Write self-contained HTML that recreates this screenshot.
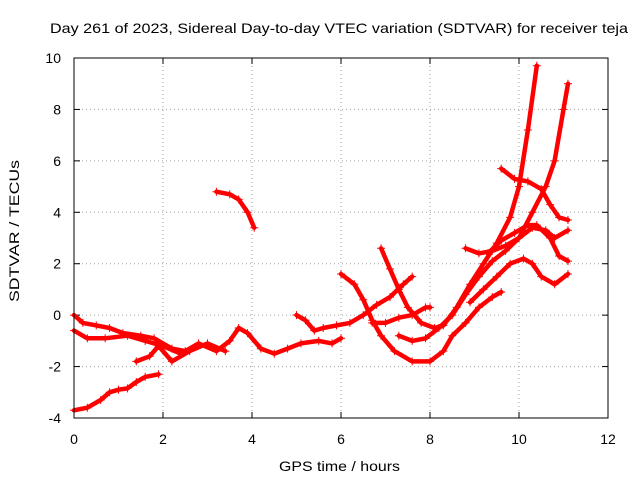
<!DOCTYPE html>
<html><head><meta charset="utf-8"><style>
body{margin:0;background:#fff;font-family:"Liberation Sans",sans-serif}
svg text{font-family:"Liberation Sans",sans-serif;font-size:14px;fill:#000}
</style></head><body>
<svg id="chart" width="640" height="480" xmlns="http://www.w3.org/2000/svg">
<rect width="640" height="480" fill="#fff"/>
<text x="50" y="33" textLength="578" lengthAdjust="spacingAndGlyphs">Day 261 of 2023, Sidereal Day-to-day VTEC variation (SDTVAR) for receiver teja</text>
<text x="279" y="471" textLength="121" lengthAdjust="spacingAndGlyphs">GPS time / hours</text>
<text transform="translate(19,302) rotate(-90)" textLength="142" lengthAdjust="spacingAndGlyphs">SDTVAR / TECUs</text>
<g id="grid"></g>
<g id="series"></g>
<rect x="74" y="58" width="534" height="360" fill="none" stroke="#000" stroke-width="1"/>
</svg>
<script>
const xTicks=[0,2,4,6,8,10,12];
const yTicks=[-4,-2,0,2,4,6,8,10];
const track1=[[0,-3.7],[0.3,-3.6],[0.6,-3.3],[0.8,-3.0],[1.0,-2.9],[1.2,-2.85],[1.4,-2.6],[1.6,-2.4],[1.9,-2.3]];
const track2=[[0,0],[0.2,-0.3],[0.5,-0.4],[0.8,-0.5],[1.1,-0.7],[1.5,-0.8],[1.8,-0.9],[2.2,-1.3],[2.5,-1.4]];
const track3=[[0,-0.6],[0.3,-0.9],[0.7,-0.9],[1.2,-0.8],[1.6,-1.0],[2.0,-1.2],[2.4,-1.5],[2.8,-1.1],[3.2,-1.4],[3.5,-1.0],[3.7,-0.5],[3.9,-0.7],[4.2,-1.3],[4.5,-1.5],[4.8,-1.3],[5.1,-1.1],[5.5,-1.0],[5.8,-1.1],[6.0,-0.9]];
const track4=[[1.4,-1.8],[1.7,-1.6],[1.9,-1.2],[2.2,-1.8],[2.6,-1.4],[3.0,-1.1],[3.4,-1.4]];
const track5=[[3.2,4.8],[3.5,4.7],[3.7,4.5],[3.9,4.0],[4.05,3.4]];
const track6=[[5.0,0.0],[5.2,-0.2],[5.4,-0.6],[5.6,-0.5],[5.9,-0.4],[6.2,-0.3],[6.5,0.0],[6.8,0.4],[7.1,0.7],[7.4,1.2],[7.6,1.5]];
const track7=[[6.0,1.6],[6.3,1.2],[6.5,0.6],[6.7,-0.2],[6.9,-0.8],[7.2,-1.4],[7.6,-1.8],[8.0,-1.8],[8.3,-1.4],[8.5,-0.8],[8.8,-0.3],[9.1,0.3],[9.4,0.7],[9.6,0.9]];
const track8=[[6.9,2.6],[7.1,1.8],[7.3,1.0],[7.5,0.3],[7.8,-0.3],[8.1,-0.5],[8.3,-0.4],[8.6,0.3],[8.9,1.2],[9.2,2.0],[9.5,2.8],[9.8,3.8],[10.0,5.0],[10.2,7.2],[10.4,9.7]];
const track9=[[6.7,-0.3],[7.0,-0.3],[7.3,-0.1],[7.6,0.0],[7.9,0.3],[8.0,0.3]];
const track10=[[7.3,-0.8],[7.6,-1.0],[7.9,-0.9],[8.2,-0.5],[8.5,0.0],[8.8,0.8],[9.1,1.5],[9.4,2.1],[9.7,2.5],[10.0,3.0],[10.3,4.0],[10.6,5.0],[10.8,6.0],[11.0,8.0],[11.1,9.0]];
const track11=[[8.8,2.6],[9.1,2.4],[9.4,2.5],[9.7,2.7],[10.0,3.0],[10.3,3.4],[10.6,3.3],[10.8,3.0],[11.1,3.3]];
const track12=[[9.6,5.7],[9.9,5.3],[10.2,5.2],[10.5,4.9],[10.7,4.3],[10.9,3.8],[11.1,3.7]];
const track13=[[8.9,0.5],[9.2,1.0],[9.5,1.5],[9.8,2.0],[10.1,2.2],[10.3,2.0],[10.5,1.5],[10.8,1.2],[11.1,1.6]];
const track14=[[9.3,2.4],[9.6,2.9],[9.9,3.2],[10.2,3.5],[10.4,3.5],[10.7,3.0],[10.9,2.3],[11.1,2.1]];
const tracks=[track1,track2,track3,track4,track5,track6,track7,track8,track9,track10,track11,track12,track13,track14];

const X0=74,X1=608,Y0=418,Y1=58;
function sx(v){return X0+(v-0)/(12-0)*(X1-X0);}
function sy(v){return Y0-(v+4)/14*(Y0-Y1);}
const NS="http://www.w3.org/2000/svg";
const svg=document.getElementById('chart');
const grid=document.getElementById('grid');
const ser=document.getElementById('series');
function mk(t,a,p){const e=document.createElementNS(NS,t);for(const k in a)e.setAttribute(k,a[k]);(p||svg).appendChild(e);return e;}
xTicks.forEach(t=>{const x=sx(t);
 if(t>0&&t<12){const g=mk('line',{x1:x,x2:x,y1:Y1,y2:Y0,stroke:'#a0a0a0','stroke-dasharray':'1,3'},grid);}
 const a=mk('line',{x1:x,x2:x,y1:Y0,y2:Y0-6,stroke:'#000'},grid);
 const b=mk('line',{x1:x,x2:x,y1:Y1,y2:Y1+6,stroke:'#000'},grid);
 const l=mk('text',{x:x,y:Y0+26,'text-anchor':'middle'});l.textContent=t;});
yTicks.forEach(t=>{const y=sy(t);
 if(t>-4&&t<10){const g=mk('line',{x1:X0,x2:X1,y1:y,y2:y,stroke:'#a0a0a0','stroke-dasharray':'1,3'},grid);}
 const a=mk('line',{x1:X0,x2:X0+6,y1:y,y2:y,stroke:'#000'},grid);
 const b=mk('line',{x1:X1,x2:X1-6,y1:y,y2:y,stroke:'#000'},grid);
 const l=mk('text',{x:X0-13,y:y+5,'text-anchor':'end'});l.textContent=t;});
tracks.forEach((tr,i)=>{
 const pts=tr.map(p=>sx(p[0]).toFixed(1)+','+sy(p[1]).toFixed(1)).join(' ');
 const pl=mk('polyline',{points:pts,fill:'none',stroke:'#f00','stroke-width':4.5,'stroke-linejoin':'round','stroke-linecap':'round'},ser);
 
 
 tr.forEach(p=>{const x=sx(p[0]),y=sy(p[1]);
  const m=mk('path',{d:`M${x-4},${y}H${x+4}M${x},${y-4}V${y+4}`,stroke:'#f00','stroke-width':1},ser);
  
  });
});
</script>
</body></html>
